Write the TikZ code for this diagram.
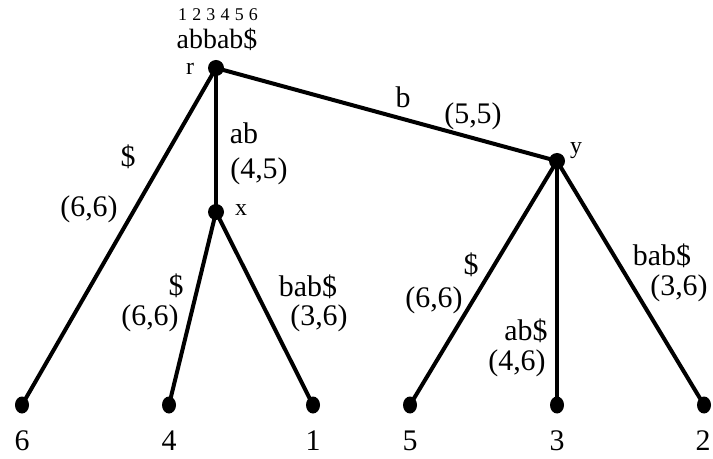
\documentclass[tikz,border=0pt]{standalone}
\usepackage{fontspec}
\usetikzlibrary{shapes.geometric}
\setmainfont{Liberation Serif}
\begin{document}
\begin{tikzpicture}[x=1bp,y=-1bp,
  dot/.style={circle,fill=black,inner sep=0pt,minimum size=16bp},
  leaf/.style={ellipse,fill=black,inner sep=0pt,minimum width=14bp,minimum height=17bp},
  edge/.style={line width=4bp},
  lbl/.style={font=\fontsize{30}{34}\selectfont,inner sep=0pt},
  small/.style={font=\fontsize{24}{26}\selectfont,inner sep=0pt},
  tiny/.style={font=\fontsize{18}{20}\selectfont,inner sep=0pt}]
\useasboundingbox (0,0) rectangle (713,459);
\node[dot] (r) at (216,68) {};
\node[dot] (x) at (216,212) {};
\node[dot] (y) at (557,161) {};
\node[leaf] (l6) at (22,405) {};
\node[leaf] (l4) at (169,405) {};
\node[leaf] (l1) at (313,405) {};
\node[leaf] (l5) at (410,405) {};
\node[leaf] (l3) at (557,405) {};
\node[leaf] (l2) at (704,405) {};
\draw[edge] (r.center) -- (l6.center);
\draw[edge] (r.center) -- (x.center);
\draw[edge] (r.center) -- (y.center);
\draw[edge] (x.center) -- (l4.center);
\draw[edge] (x.center) -- (l1.center);
\draw[edge] (y.center) -- (l5.center);
\draw[edge] (y.center) -- (l3.center);
\draw[edge] (y.center) -- (l2.center);
\node[tiny] (idx) at (218,15) {1\hspace{0.29em}2\hspace{0.29em}3\hspace{0.29em}4\hspace{0.29em}5\hspace{0.29em}6};
\node[lbl,font=\fontsize{28}{32}\selectfont] (str) at (217,39) {abbab\$};
\node[small] (rl) at (190,69) {r};
\node[small] (xl) at (241,210) {x};
\node[small] (yl) at (576,151) {y};
\node[lbl] (b1) at (403,97) {b};
\node[lbl] (b2) at (473,116) {(5,5)};
\node[lbl] (a1) at (244,133) {ab};
\node[lbl] (a2) at (259,171) {(4,5)};
\node[lbl] (s1) at (128,157) {\$};
\node[lbl] (s2) at (89,209) {(6,6)};
\node[lbl] (c1) at (176,286) {\$};
\node[lbl] (c2) at (150,318) {(6,6)};
\node[lbl] (d1) at (308,287) {bab\$};
\node[lbl] (d2) at (319,318) {(3,6)};
\node[lbl] (e1) at (471,265) {\$};
\node[lbl] (e2) at (434,300) {(6,6)};
\node[lbl] (f1) at (526,331) {ab\$};
\node[lbl] (f2) at (517,363) {(4,6)};
\node[lbl] (g1) at (662,256) {bab\$};
\node[lbl] (g2) at (679,288) {(3,6)};
\node[lbl] (n6) at (22,441) {6};
\node[lbl] (n4) at (169,441) {4};
\node[lbl] (n1) at (313,441) {1};
\node[lbl] (n5) at (410,441) {5};
\node[lbl] (n3) at (557,441) {3};
\node[lbl] (n2) at (703,441) {2};
\end{tikzpicture}
\end{document}
